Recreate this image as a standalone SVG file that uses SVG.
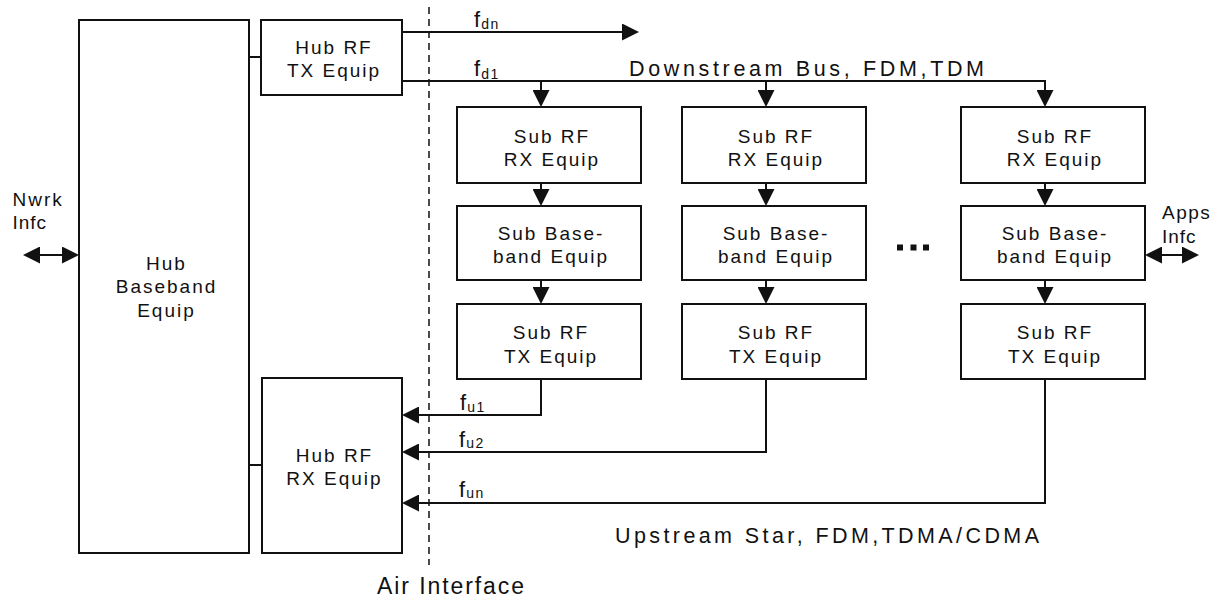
<svg xmlns="http://www.w3.org/2000/svg" width="1221" height="603" viewBox="0 0 1221 603">
  <defs>
    <style>
      .box { fill: #fff; stroke: #111; stroke-width: 2; }
      .wire { fill: none; stroke: #111; stroke-width: 2; }
      .arr { marker-end: url(#head); }
      .both { marker-start: url(#head); marker-end: url(#head); }
      .air { fill: none; stroke: #111; stroke-width: 1.5; stroke-dasharray: 7 5; }
      text { font-family: "Liberation Sans", Arial, sans-serif; fill: #111; }
      .lbl { font-size: 19px; letter-spacing: 2px; text-anchor: middle; }
      .side { font-size: 19px; letter-spacing: 2px; }
      .big { font-size: 21.5px; }
      .f { font-size: 22px; }
      .sub { font-size: 14px; letter-spacing: 1.5px; }
    </style>
    <marker id="head" markerUnits="userSpaceOnUse" markerWidth="17" markerHeight="17" refX="15" refY="8.5" orient="auto-start-reverse">
      <path d="M0,0 L17,8.5 L0,17 Z" fill="#111"/>
    </marker>
  </defs>

  <rect width="1221" height="603" fill="#fff"/>

  <!-- air interface boundary -->
  <path class="air" d="M429,7 V565"/>

  <!-- connectors -->
  <g id="connectors">
    <path class="wire" d="M249,57 H261"/>
    <path class="wire" d="M249,465 H262"/>
    <path class="wire arr" d="M402,32 H637"/>
    <path class="wire arr" d="M402,81 H1045 V105"/>
    <path class="wire arr" d="M541,81 V105"/>
    <path class="wire arr" d="M766,81 V105"/>
    <path class="wire arr" d="M541,183 V204"/>
    <path class="wire arr" d="M766,183 V204"/>
    <path class="wire arr" d="M1045,183 V204"/>
    <path class="wire arr" d="M541,280 V302"/>
    <path class="wire arr" d="M766,280 V302"/>
    <path class="wire arr" d="M1045,280 V302"/>
    <path class="wire arr" d="M541,379 V415 H404"/>
    <path class="wire arr" d="M766,379 V452 H404"/>
    <path class="wire arr" d="M1045,379 V503 H404"/>
    <path class="wire both" d="M25,255 H77"/>
    <path class="wire both" d="M1147,255 H1197"/>
  </g>

  <!-- hub side -->
  <g id="hub-baseband">
    <rect class="box" x="79" y="20" width="170" height="533"/>
    <text class="lbl" x="166.5" y="270">Hub</text>
    <text class="lbl" x="166.5" y="293">Baseband</text>
    <text class="lbl" x="166.5" y="317">Equip</text>
  </g>
  <g id="hub-rf-tx">
    <rect class="box" x="261" y="20" width="141" height="75"/>
    <text class="lbl" x="334" y="54">Hub RF</text>
    <text class="lbl" x="334" y="77">TX Equip</text>
  </g>
  <g id="hub-rf-rx">
    <rect class="box" x="262" y="378" width="140" height="175"/>
    <text class="lbl" x="334.5" y="462">Hub RF</text>
    <text class="lbl" x="334.5" y="485">RX Equip</text>
  </g>

  <!-- subscriber chain 1 -->
  <g id="sub1-rx">
    <rect class="box" x="457" y="107" width="184" height="76"/>
    <text class="lbl" x="552" y="143">Sub RF</text>
    <text class="lbl" x="552" y="166">RX Equip</text>
  </g>
  <g id="sub1-bb">
    <rect class="box" x="457" y="206" width="184" height="74"/>
    <text class="lbl" x="551" y="240">Sub Base-</text>
    <text class="lbl" x="551" y="263">band Equip</text>
  </g>
  <g id="sub1-tx">
    <rect class="box" x="457" y="304" width="184" height="75"/>
    <text class="lbl" x="551" y="339">Sub RF</text>
    <text class="lbl" x="551" y="362.5">TX Equip</text>
  </g>

  <!-- subscriber chain 2 -->
  <g id="sub2-rx">
    <rect class="box" x="682" y="107" width="184" height="76"/>
    <text class="lbl" x="776" y="143">Sub RF</text>
    <text class="lbl" x="776" y="166">RX Equip</text>
  </g>
  <g id="sub2-bb">
    <rect class="box" x="682" y="206" width="184" height="74"/>
    <text class="lbl" x="776" y="240">Sub Base-</text>
    <text class="lbl" x="776" y="263">band Equip</text>
  </g>
  <g id="sub2-tx">
    <rect class="box" x="682" y="304" width="184" height="75"/>
    <text class="lbl" x="776" y="339">Sub RF</text>
    <text class="lbl" x="776" y="362.5">TX Equip</text>
  </g>

  <!-- subscriber chain n -->
  <g id="subn-rx">
    <rect class="box" x="961" y="107" width="184" height="76"/>
    <text class="lbl" x="1055" y="143">Sub RF</text>
    <text class="lbl" x="1055" y="166">RX Equip</text>
  </g>
  <g id="subn-bb">
    <rect class="box" x="961" y="206" width="184" height="74"/>
    <text class="lbl" x="1055" y="240">Sub Base-</text>
    <text class="lbl" x="1055" y="263">band Equip</text>
  </g>
  <g id="subn-tx">
    <rect class="box" x="961" y="304" width="184" height="75"/>
    <text class="lbl" x="1055" y="339">Sub RF</text>
    <text class="lbl" x="1055" y="362.5">TX Equip</text>
  </g>

  <!-- ellipsis between chains -->
  <g id="ellipsis" fill="#111">
    <rect x="897" y="244.5" width="6" height="6"/>
    <rect x="910.5" y="244.5" width="6" height="6"/>
    <rect x="923" y="244.5" width="6" height="6"/>
  </g>

  <!-- interface labels -->
  <g id="nwrk-infc">
    <text class="side" x="12.5" y="206">Nwrk</text>
    <text class="side" x="12.5" y="229" style="letter-spacing:1px">Infc</text>
  </g>
  <g id="apps-infc">
    <text class="side" x="1162" y="219" style="letter-spacing:1.5px">Apps</text>
    <text class="side" x="1162" y="242.5" style="letter-spacing:1px">Infc</text>
  </g>

  <!-- frequency labels -->
  <g id="freq-labels">
    <text class="f" x="474" y="27">f<tspan class="sub" dx="1" dy="1.5">dn</tspan></text>
    <text class="f" x="474" y="76">f<tspan class="sub" dx="1" dy="2.5">d1</tspan></text>
    <text class="f" x="460" y="410">f<tspan class="sub" dx="1" dy="1.5">u1</tspan></text>
    <text class="f" x="459" y="446.5">f<tspan class="sub" dx="1" dy="1.5">u2</tspan></text>
    <text class="f" x="459" y="496.5">f<tspan class="sub" dx="1" dy="1.5">un</tspan></text>
  </g>

  <!-- captions -->
  <g id="captions">
    <text class="big" x="629" y="76" textLength="355" lengthAdjust="spacing">Downstream Bus, FDM,TDM</text>
    <text class="big" x="615" y="543" textLength="424" lengthAdjust="spacing">Upstream Star, FDM,TDMA/CDMA</text>
    <text class="big" x="377" y="594" style="font-size:23px" textLength="147" lengthAdjust="spacing">Air Interface</text>
  </g>
</svg>
